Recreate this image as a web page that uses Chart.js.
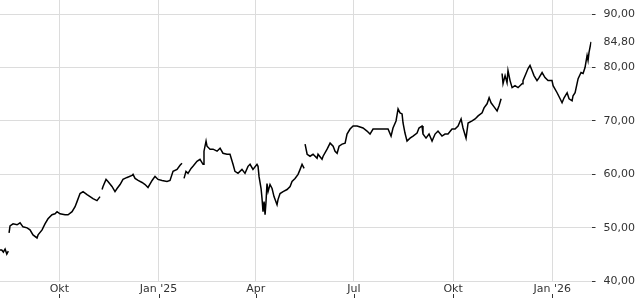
<!DOCTYPE html>
<html>
<head>
<meta charset="utf-8">
<script src="https://cdn.jsdelivr.net/npm/chart.js@4"></script>
<style>
  body { margin: 0; background: #fff; }
  #wrap { width: 640px; height: 300px; }
</style>
</head>
<body>
<div id="wrap"><canvas id="priceChart"></canvas></div>
<script>
// days since 1 Oct 2024 (null price = break in the line)
const days = [
  -55.0, -53.4, -51.9, -50.3, -48.7, -47.3, -47.0,
  -46.6, -45.7, -42.9, -39.2, -36.4, -33.7, -29.9, -27.2, -24.4, -20.7, -19.7, -16.0, -13.3, -10.5, -6.8, -4.0, -2.1, 0.6, 5.3, 8.1, 11.8, 14.6, 16.4, 19.2, 22.0, 25.7, 28.5, 31.2, 34.9, 37.7, 38.6,
  39.6, 40.5, 43.3, 45.1, 48.8, 51.6, 53.5, 56.3, 59.0, 62.8, 67.4, 68.3, 70.2, 73.0, 76.7, 79.5, 82.2, 86.0, 88.7, 91.5, 95.2, 99.8, 102.6, 105.4, 109.1, 111.9, 113.7, 114.6,
  115.6, 117.4, 119.3, 122.1, 123.9, 127.6, 130.4, 133.2, 134.1, 136.0, 136.9, 139.7, 142.5, 146.2, 149.0, 151.7, 155.4, 158.2, 161.0, 162.8, 165.6, 169.3, 172.1, 174.9, 176.8, 179.5, 183.2, 184.2, 185.1, 187.0, 187.9, 188.8, 189.8, 190.7, 191.6, 192.5, 193.5, 195.3, 197.2, 199.0, 201.8, 202.7, 204.6, 207.4, 211.1, 213.9, 215.7, 218.5, 221.3, 223.2, 225.0, 226.9, 227.3,
  227.8, 229.7, 232.4, 235.2, 238.9, 239.8, 243.5, 244.5, 248.2, 251.0, 253.8, 255.6, 257.5, 259.3, 262.1, 264.9, 266.7, 269.5, 272.3, 276.0, 278.8, 281.5, 285.2, 288.0, 290.8, 295.4, 300.1, 304.7, 307.5, 309.3, 312.1, 314.0, 315.8, 317.7, 318.6, 320.4, 322.3, 325.1, 327.9, 331.6, 333.4, 336.2, 337.1, 339.9, 342.7, 345.5, 348.3, 351.0, 354.7, 357.5, 360.3, 364.0, 366.8, 369.6, 372.4, 374.2, 377.0, 378.9, 382.6, 385.4, 388.2, 391.9, 393.7, 396.5, 398.4, 400.2, 403.0, 405.8, 407.6, 409.5, 410.0,
  410.4, 411.3, 413.2, 415.0, 415.9, 417.8, 419.7, 422.4, 425.2, 428.9, 429.8, 432.6, 434.5, 436.3, 438.2, 440.0, 442.8, 444.7, 447.5, 450.2, 453.0, 456.7, 457.7, 461.4, 464.2, 466.0, 467.9, 470.7, 472.5, 475.3, 476.2, 478.1, 479.9, 480.9, 483.6, 485.5, 487.3, 489.2, 490.1, 491.0, 492.9
];
const prices = [
  45.85, 45.85, 45.47, 46.04, 45.09, 45.66, null,
  49.06, 50.38, 50.75, 50.57, 50.94, 50.19, 50.00, 49.62, 48.68, 48.11, 48.68, 49.62, 50.75, 51.70, 52.45, 52.64, 53.02, 52.64, 52.45, 52.45, 53.02, 53.96, 54.91, 56.42, 56.79, 56.23, 55.85, 55.47, 55.09, 55.85, null,
  57.17, 57.74, 59.06, 58.68, 57.74, 56.79, 57.36, 58.11, 59.06, 59.43, 59.81, 60.00, 59.25, 58.87, 58.49, 58.11, 57.55, 58.87, 59.62, 59.06, 58.87, 58.68, 58.87, 60.57, 60.94, 61.70, 62.08, null,
  59.25, 60.57, 60.19, 61.13, 61.51, 62.45, 62.83, 61.89, 64.34, 66.23, 65.28, 64.72, 64.72, 64.34, 64.91, 63.96, 63.77, 63.77, 61.89, 60.57, 60.19, 60.94, 60.19, 61.51, 61.89, 60.94, 61.89, 61.51, 59.62, 57.36, 55.47, 53.02, 54.91, 52.45, 54.91, 58.30, 56.79, 58.11, 57.36, 55.85, 54.34, 55.28, 56.42, 56.79, 57.17, 57.74, 58.68, 59.25, 60.00, 60.94, 61.89, 61.13, null,
  65.66, 63.77, 63.40, 63.77, 63.02, 63.77, 62.83, 63.40, 64.72, 65.85, 65.28, 64.34, 63.96, 65.28, 65.66, 65.85, 67.55, 68.49, 69.06, 69.06, 68.87, 68.68, 68.11, 67.55, 68.49, 68.49, 68.49, 68.49, 67.17, 68.68, 70.00, 72.26, 71.51, 71.32, 69.62, 67.74, 66.23, 66.79, 67.17, 67.74, 68.68, 69.06, 67.55, 66.79, 67.55, 66.23, 67.55, 68.11, 67.17, 67.55, 67.55, 68.49, 68.49, 69.06, 70.38, 68.68, 66.79, 69.62, 70.00, 70.38, 70.94, 71.51, 72.45, 73.21, 74.34, 73.40, 72.64, 71.89, 72.83, 74.15, null,
  78.87, 76.98, 78.49, 77.17, 79.43, 77.55, 76.23, 76.60, 76.23, 76.98, 77.55, 78.87, 79.81, 80.38, 79.43, 78.49, 77.55, 78.11, 79.06, 78.11, 77.55, 77.55, 76.60, 75.28, 74.15, 73.40, 74.34, 75.28, 74.15, 73.77, 74.72, 75.28, 76.98, 77.92, 79.06, 78.87, 80.00, 82.26, 81.32, 82.83, 84.80
];
const tickDays = [0, 92, 182, 273, 365, 457];
const tickNames = ['Okt', "Jan '25", 'Apr', 'Jul', 'Okt', "Jan '26"];
const yTicks = [40, 50, 60, 70, 80, 84.8, 90];
const lastPrice = 84.8;

const gridColor = '#dcdcdc';
const textColor = '#333';

// small tick marks under the month labels
const bottomTicks = {
  id: 'bottomTicks',
  afterDraw(chart) {
    const x = chart.scales.x;
    const c = chart.ctx;
    c.save();
    c.strokeStyle = textColor;
    c.lineWidth = 1;
    tickDays.forEach(d => {
      const px = Math.round(x.getPixelForValue(d)) + 0.5;
      c.beginPath();
      c.moveTo(px, 294);
      c.lineTo(px, 298);
      c.stroke();
    });
    c.restore();
  }
};

new Chart(document.getElementById('priceChart'), {
  type: 'line',
  data: {
    datasets: [{
      data: days.map((d, i) => ({ x: d, y: prices[i] })),
      borderColor: '#000',
      borderWidth: 1.5,
      pointRadius: 0,
      tension: 0,
      spanGaps: false
    }]
  },
  options: {
    responsive: true,
    maintainAspectRatio: false,
    animation: false,
    layout: { padding: { left: 0, right: 5, top: 0, bottom: 3.5 } },
    plugins: { legend: { display: false }, tooltip: { enabled: false } },
    scales: {
      x: {
        type: 'linear',
        min: -55.0,
        max: 493.3,
        afterBuildTicks: s => { s.ticks = tickDays.map(v => ({ value: v })); },
        afterFit: s => { s.paddingLeft = 0; s.paddingRight = 0; },
        border: { display: false },
        grid: { color: gridColor, drawTicks: false },
        ticks: {
          autoSkip: false,
          maxRotation: 0,
          padding: 1,
          color: textColor,
          font: { family: 'DejaVu Sans', size: 11 },
          callback: v => tickNames[tickDays.indexOf(v)]
        }
      },
      y: {
        position: 'right',
        min: 40,
        max: 92.63,
        afterBuildTicks: s => { s.ticks = yTicks.map(v => ({ value: v })); },
        afterFit: s => { s.paddingTop = 0; s.paddingBottom = 0; s.width = 43.5; },
        border: { display: false },
        grid: {
          color: c => c.tick && c.tick.value === lastPrice ? 'rgba(0,0,0,0)' : gridColor,
          tickColor: c => c.tick && c.tick.value === lastPrice ? 'rgba(0,0,0,0)' : textColor,
          tickLength: 4
        },
        ticks: {
          padding: 8,
          color: textColor,
          font: { family: 'DejaVu Sans', size: 11 },
          callback: v => v.toFixed(2).replace('.', ',')
        }
      }
    }
  },
  plugins: [bottomTicks]
});
</script>
</body>
</html>
